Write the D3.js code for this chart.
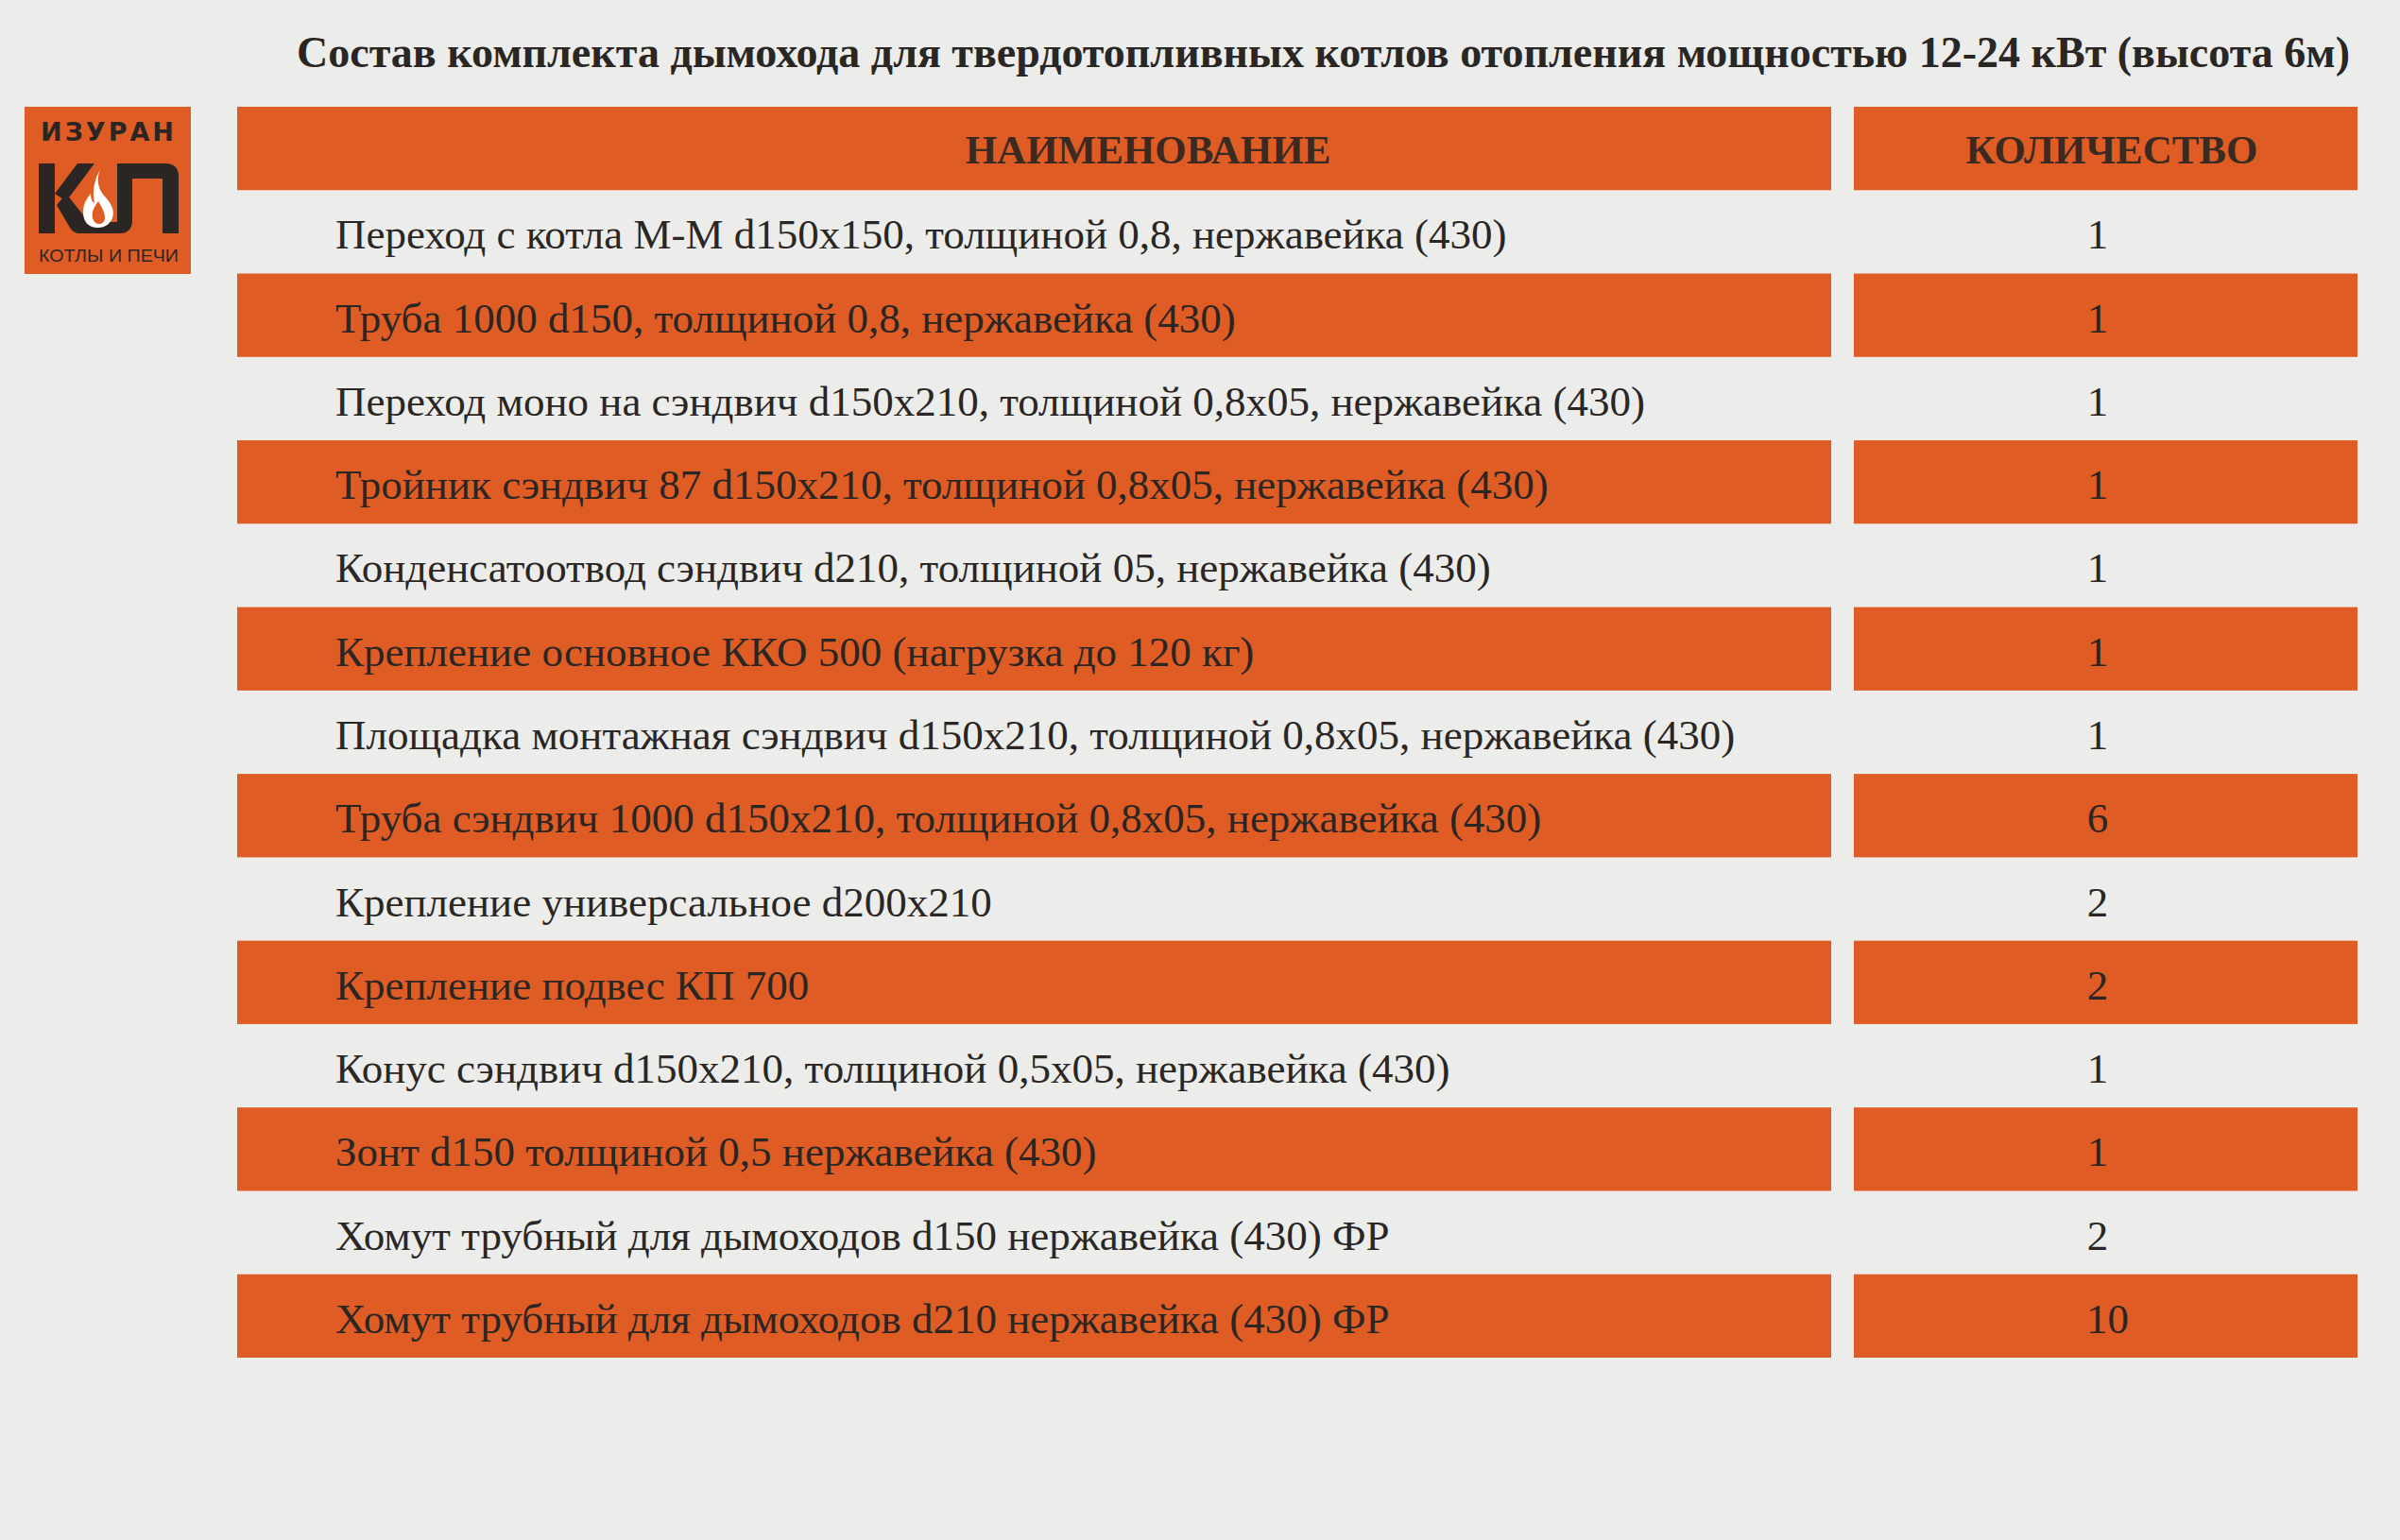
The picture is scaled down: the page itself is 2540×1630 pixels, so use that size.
<!DOCTYPE html>
<html><head><meta charset="utf-8">
<script src="https://cdn.jsdelivr.net/npm/d3@7"></script>
<style>body{margin:0;background:#ecedeb;}</style>
</head><body>
<div id="chart"></div>
<script>
const title = "Состав комплекта дымохода для твердотопливных котлов отопления мощностью 12-24 кВт (высота 6м)";
const columns = ["НАИМЕНОВАНИЕ", "КОЛИЧЕСТВО"];
const items = [
	"Переход с котла М-М d150x150, толщиной 0,8, нержавейка (430)",
	"Труба 1000 d150, толщиной 0,8, нержавейка (430)",
	"Переход моно на сэндвич d150x210, толщиной 0,8x05, нержавейка (430)",
	"Тройник сэндвич 87 d150x210, толщиной 0,8x05, нержавейка (430)",
	"Конденсатоотвод сэндвич d210, толщиной 05, нержавейка (430)",
	"Крепление основное ККО 500 (нагрузка до 120 кг)",
	"Площадка монтажная сэндвич d150x210, толщиной 0,8x05, нержавейка (430)",
	"Труба сэндвич 1000 d150x210, толщиной 0,8x05, нержавейка (430)",
	"Крепление универсальное d200x210",
	"Крепление подвес КП 700",
	"Конус сэндвич d150x210, толщиной 0,5x05, нержавейка (430)",
	"Зонт d150 толщиной 0,5 нержавейка (430)",
	"Хомут трубный для дымоходов d150 нержавейка (430) ФР",
	"Хомут трубный для дымоходов d210 нержавейка (430) ФР",
];
const quantities = [1, 1, 1, 1, 1, 1, 1, 6, 2, 2, 1, 1, 2, 10];

const W = 2540, H = 1630;
const orange = "#e05c25", ink = "#2a2624";
const serif = "'Liberation Serif', 'DejaVu Serif', serif";

const svg = d3.select("#chart").append("svg")
	.attr("width", W).attr("height", H)
	.style("background", "#ecedeb");

// Row scale: header + item rows
const y = d3.scaleBand()
	.domain(d3.range(items.length + 1))
	.range([113, 1437]);
const colName = { x0: 251, x1: 1938 }, colQty = { x0: 1962, x1: 2495 };

// Title
svg.append("text")
	.attr("x", 2487).attr("y", 71)
	.attr("text-anchor", "end")
	.style("font-family", serif).style("font-weight", "bold")
	.style("font-size", "46px").attr("fill", ink)
	.text(title);

// Header bars
[colName, colQty].forEach((c, i) => {
	svg.append("rect")
		.attr("x", c.x0).attr("y", y(0))
		.attr("width", c.x1 - c.x0).attr("height", y.bandwidth())
		.attr("fill", orange);
	svg.append("text")
		.attr("x", i == 0 ? 1215 : 2235).attr("y", y(0) + y.bandwidth() / 2 + 16)
		.attr("text-anchor", "middle")
		.style("font-family", serif).style("font-weight", "bold")
		.style("font-size", "43px").attr("fill", "#3a2a22")
		.text(columns[i]);
});

// Body rows
const rows = svg.selectAll(".row")
	.data(items.map((d, i) => ({ name: d, qty: quantities[i], i: i + 1 })))
	.join("g")
	.attr("class", "row")
	.attr("transform", d => `translate(0,${y(d.i)})`);

rows.filter(d => d.i % 2 == 0).each(function () {
	const g = d3.select(this);
	[colName, colQty].forEach(c => g.append("rect")
		.attr("x", c.x0).attr("width", c.x1 - c.x0)
		.attr("height", y.bandwidth()).attr("fill", orange));
});

rows.append("text")
	.attr("x", 355).attr("y", y.bandwidth() / 2 + 18)
	.style("font-family", serif).style("font-size", "45px")
	.attr("fill", ink)
	.text(d => d.name);

rows.append("text")
	.attr("x", 2220).attr("y", y.bandwidth() / 2 + 18)
	.attr("text-anchor", d => d.qty >= 10 ? "start" : "middle")
	.attr("dx", d => d.qty >= 10 ? -12 : 0)
	.style("font-family", serif).style("font-size", "45px")
	.attr("fill", ink)
	.text(d => d.qty);

// Logo
const dark = "#2b2624";
const logo = svg.append("g").attr("transform", "translate(26,113)");
logo.append("rect").attr("width", 176).attr("height", 177).attr("fill", orange);
logo.append("text")
	.attr("x", 89).attr("y", 36).attr("text-anchor", "middle")
	.style("font-family", "'DejaVu Sans', sans-serif").style("font-weight", "bold")
	.style("font-size", "27px").style("letter-spacing", "3px").attr("fill", dark)
	.text("ИЗУРАН");
// К
logo.append("path")
	.attr("d", "M15,60 h17 v74 h-17 z M32,92 l24,-32 h18 l-30,40 z M34,104 l10,-12 l24,30 h32 v12 h-42 q-6,0 -10,-6 z")
	.attr("fill", dark);
// П
logo.append("path")
	.attr("d", "M98,134 h2 q14,0 14,-14 v-44 h32 v58 h17 v-60 q0,-14 -14,-14 h-51 z")
	.attr("fill", dark);
// flame
logo.append("path")
	.attr("d", "M80,66 q-6,16 4,28 q14,14 8,26 q-5,8 -14,8 q-14,0 -16,-14 q-1,-12 8,-22 q0,8 4,10 q-4,-18 6,-36 z")
	.attr("fill", "#fff");
logo.append("path")
	.attr("d", "M78,100 q-8,10 -6,18 q2,6 7,6 q6,0 6,-7 q0,-6 -7,-17 z")
	.attr("fill", orange);
logo.append("text")
	.attr("x", 89).attr("y", 164).attr("text-anchor", "middle")
	.attr("textLength", 148).attr("lengthAdjust", "spacingAndGlyphs")
	.style("font-family", "'Liberation Sans Narrow', 'Liberation Sans', sans-serif")
	.style("font-size", "19px").attr("fill", dark)
	.text("КОТЛЫ И ПЕЧИ");
</script>
</body></html>
